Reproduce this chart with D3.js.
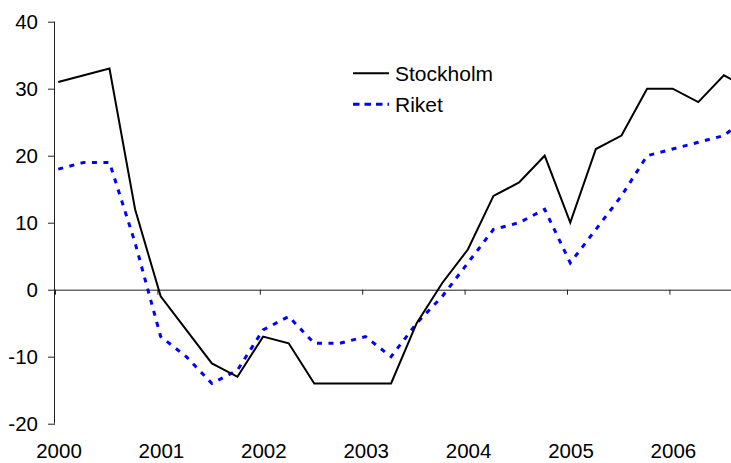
<!DOCTYPE html>
<html><head><meta charset="utf-8">
<script src="https://cdn.jsdelivr.net/npm/d3@7"></script>
<style>
html,body{margin:0;padding:0;background:#fff;}
svg{display:block;font-family:Arial,"Liberation Sans",sans-serif;}
</style></head>
<body>
<script>
// Quarterly data, 2000 Q1 .. 2006 Q4
const startYear = 2000;
const stockholm = [31,32,33,12,-1,-6,-11,-13,-7,-8,-14,-14,-14,-14,-5,1,6,14,16,20,10,21,23,30,30,28,32,30];
const riket     = [18,19,19,7,-7,-10,-14,-12,-6,-4,-8,-8,-7,-10,-5,-1,4,9,10,12,4,9,14,20,21,22,23,26];
const yearTicks = [2000,2001,2002,2003,2004,2005,2006];
const yTicks = [-20,-10,0,10,20,30,40];
const seriesNames = ["Stockholm","Riket"];

const W = 731, H = 463;
const svg = d3.select("body").append("svg").attr("width",W).attr("height",H);

const x = d3.scaleLinear().domain([2000,2007]).range([55, 55+7*102.4]);
const y = d3.scaleLinear().domain([-20,40]).range([423.7, 21.7]);
const tOf = i => startYear + i/4 + 0.032;
const fmt = d => String(d); // plain hyphen-minus

// Y axis
const yAxis = svg.append("g").attr("transform","translate(55,0)")
  .call(d3.axisLeft(y).tickValues(yTicks).tickSize(7).tickPadding(10).tickFormat(fmt));
yAxis.select(".domain").attr("stroke","#222").attr("d", `M-0.5,${y(-20)}V${y(40)}`);
yAxis.selectAll(".tick line").attr("stroke","#222");
yAxis.selectAll("text").attr("font-size",20.5).attr("fill","#000").attr("font-family","Arial, 'Liberation Sans', sans-serif");

// X axis at zero
const xAxis = svg.append("g").attr("transform",`translate(0,${y(0)})`)
  .call(d3.axisBottom(x).tickValues(yearTicks).tickSize(5).tickFormat(fmt));
xAxis.select(".domain").attr("stroke","#222").attr("d", `M55,0.5H${W}`);
xAxis.selectAll(".tick line").attr("stroke","#222");
xAxis.selectAll("text").attr("font-size",20.5).attr("fill","#000")
  .attr("font-family","Arial, 'Liberation Sans', sans-serif")
  .attr("y", 458.3 - y(0)).attr("dy",null).attr("dx",3.5);

const line = d3.line().x((d,i)=>x(tOf(i))).y(d=>y(d));

svg.append("path").datum(riket).attr("d",line)
  .attr("fill","none").attr("stroke","#0000ff").attr("stroke-width",3)
  .attr("stroke-dasharray","5,6.5");
svg.append("path").datum(stockholm).attr("d",line)
  .attr("fill","none").attr("stroke","#000").attr("stroke-width",2).attr("stroke-linejoin","miter");

// Legend
const lg = svg.append("g");
const styles = [{stroke:"#000",w:2,dash:null},{stroke:"#0000ff",w:3,dash:"6.5,5"}];
seriesNames.forEach((n,i)=>{
  const ly = 73.3 + i*31;
  lg.append("line").attr("x1",353).attr("x2",389).attr("y1",ly).attr("y2",ly)
    .attr("stroke",styles[i].stroke).attr("stroke-width",styles[i].w)
    .attr("stroke-dasharray",styles[i].dash);
  lg.append("text").attr("x",395).attr("y",ly).attr("dy","0.36em")
    .attr("font-size",21).attr("fill","#000").text(n);
});
</script>
</body></html>
